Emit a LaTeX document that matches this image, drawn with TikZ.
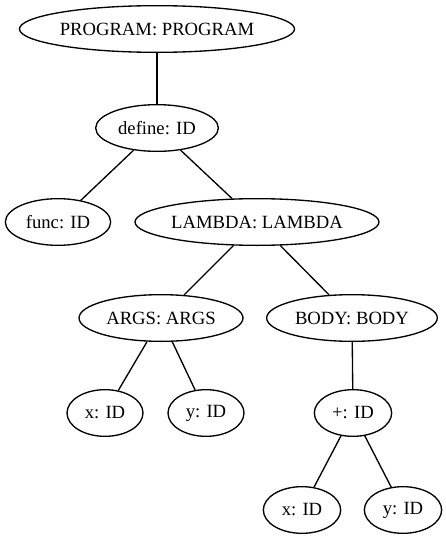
\documentclass[tikz,border=0pt]{standalone}
\usepackage{fontspec}
\setmainfont{Liberation Serif}
\usetikzlibrary{shapes.geometric}

\begin{document}
\begin{tikzpicture}[x=0.75pt,y=-0.75pt,line width=1pt,
    astnode/.style={draw,ellipse,inner sep=0pt,minimum height=35pt,font=\fontsize{14pt}{17pt}\selectfont}]
                    \useasboundingbox (0,0) rectangle (446,539);
                    \node[astnode,minimum width=204pt] (prog) at (157,29) {PROGRAM: PROGRAM};
                    \node[astnode,minimum width=92pt] (define) at (157,128) {define: ID};
                    \node[astnode,minimum width=79pt] (func) at (58,222) {func: ID};
                    \node[astnode,minimum width=183pt] (lambda) at (257,222) {LAMBDA: LAMBDA};
                    \node[astnode,minimum width=123pt] (args) at (161,318) {ARGS: ARGS};
                    \node[astnode,minimum width=128pt] (body) at (352,318) {BODY: BODY};
                    \node[astnode,minimum width=57pt] (argx) at (105,413) {x: ID};
                    \node[astnode,minimum width=57pt] (argy) at (206,413) {y: ID};
                    \node[astnode,minimum width=58pt] (plus) at (353,413) {+: ID};
                    \node[astnode,minimum width=58pt] (plusx) at (302,510) {x: ID};
                    \node[astnode,minimum width=58pt] (plusy) at (403,510) {y: ID};
                    \draw (prog)--(define);
                    \draw (define)--(func);
                    \draw (define)--(lambda);
                    \draw (lambda)--(args);
                    \draw (lambda)--(body);
                    \draw (args)--(argx);
                    \draw (args)--(argy);
                    \draw (body)--(plus);
                    \draw (plus)--(plusx);
                    \draw (plus)--(plusy);
                \end{tikzpicture}
\end{document}
